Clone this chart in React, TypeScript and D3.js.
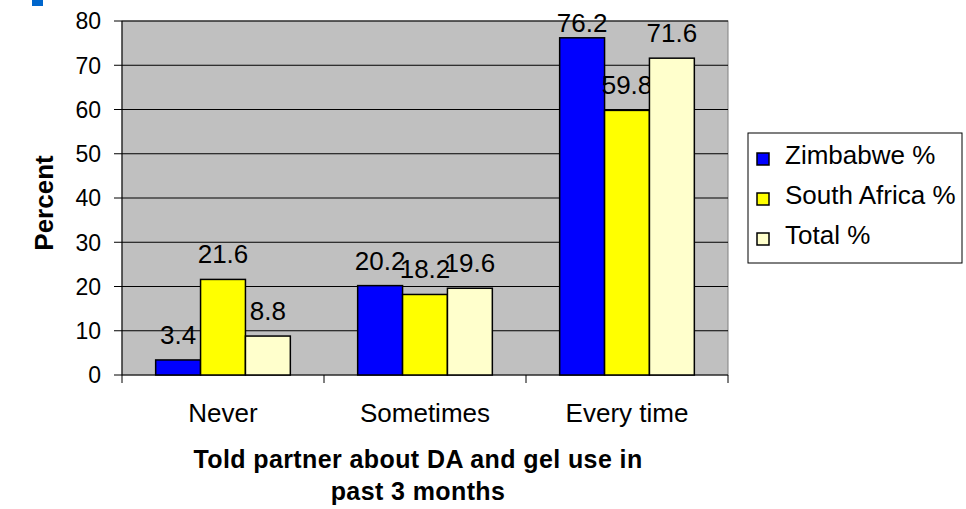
import React from "react";
import * as d3 from "d3";

const categories = ["Never", "Sometimes", "Every time"];
const seriesNames = ["Zimbabwe %", "South Africa %", "Total %"];
const zimbabwe = [3.4, 20.2, 76.2];
const southAfrica = [21.6, 18.2, 59.8];
const total = [8.8, 19.6, 71.6];
const yTicks = [0, 10, 20, 30, 40, 50, 60, 70, 80];
const colors = ["#0000ff", "#ffff00", "#ffffcc"];

const seriesValues = [zimbabwe, southAfrica, total];

export default function App() {
  const W = 966, H = 509;
  const left = 122, right = 728, top = 21, bottom = 375;
  const x0 = d3.scaleBand().domain(categories).range([left, right]).paddingInner(0).paddingOuter(0);
  const bw = x0.bandwidth() / 4.5;
  const y = d3.scaleLinear().domain([0, 80]).range([bottom, top]);
  const font = "Arial, 'Liberation Sans', sans-serif";

  return (
    <svg width={W} height={H} style={{ position: "absolute", left: 0, top: 0 }} fontFamily={font}>
      <rect x={32} y={0} width={11} height={6} fill="#0066cc" />
      <rect x={left} y={top} width={right - left} height={bottom - top} fill="#c0c0c0" stroke="#808080" strokeWidth={1} />
      {yTicks.map((t) => (
        <g key={t}>
          {t > 0 && <line x1={left} x2={right} y1={y(t)} y2={y(t)} stroke="#000" strokeWidth={1} />}
          <line x1={114} x2={left} y1={y(t)} y2={y(t)} stroke="#000" />
          <text x={101} y={y(t)} dy="0.36em" textAnchor="end" fontSize={23}>{t}</text>
        </g>
      ))}
      <line x1={left} x2={left} y1={top} y2={bottom} stroke="#000" />
      <line x1={left} x2={right} y1={bottom} y2={bottom} stroke="#000" />
      {[...categories.map((c) => x0(c) as number), right].map((xv, i) => (
        <line key={i} x1={xv} x2={xv} y1={bottom} y2={bottom + 8} stroke="#000" />
      ))}
      {categories.map((c, ci) => {
        const start = (x0(c) as number) + bw * 0.75;
        return (
          <g key={c}>
            {seriesValues.map((vals, si) => {
              const v = vals[ci];
              const bx = start + si * bw;
              const ly = Math.max(y(v) - 16, 32);
              return (
                <g key={si}>
                  <rect x={bx} y={y(v)} width={bw} height={bottom - y(v)} fill={colors[si]} stroke="#000" strokeWidth={1.5} />
                  <text x={bx + bw / 2} y={ly} textAnchor="middle" fontSize={26}>{v.toFixed(1)}</text>
                </g>
              );
            })}
            <text x={(x0(c) as number) + x0.bandwidth() / 2} y={422} textAnchor="middle" fontSize={26}>{c}</text>
          </g>
        );
      })}
      <text x={418} y={468} textAnchor="middle" fontSize={25} fontWeight="bold" letterSpacing={0.4}>Told partner about DA and gel use in</text>
      <text x={418} y={500} textAnchor="middle" fontSize={25} fontWeight="bold" letterSpacing={0.4}>past 3 months</text>
      <text transform={`translate(53,${203}) rotate(-90)`} textAnchor="middle" fontSize={26} fontWeight="bold">Percent</text>
      <rect x={748} y={133} width={214} height={130} fill="#fff" stroke="#000" />
      {seriesNames.map((n, i) => (
        <g key={n}>
          <rect x={757} y={153 + i * 40} width={12} height={12} fill={colors[i]} stroke="#000" strokeWidth={1.5} />
          <text x={785} y={164 + i * 40} fontSize={26}>{n}</text>
        </g>
      ))}
    </svg>
  );
}
